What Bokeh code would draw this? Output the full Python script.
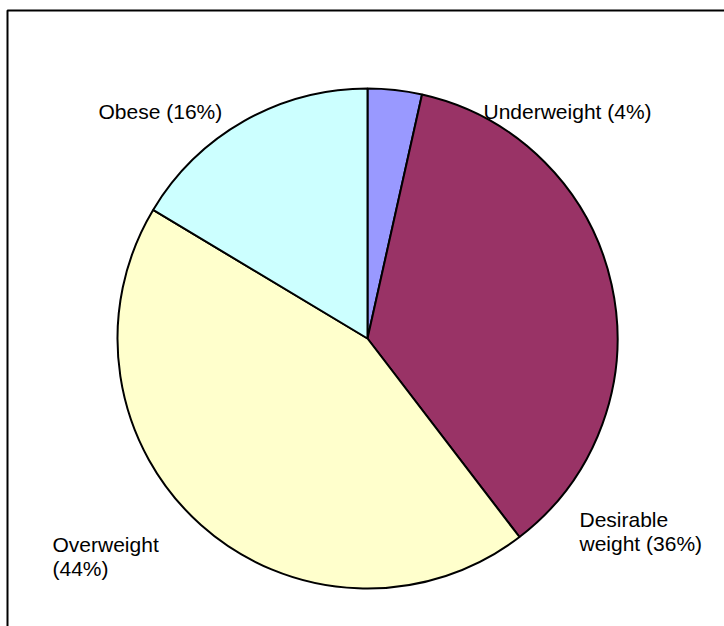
import numpy as np
from bokeh.plotting import figure
from bokeh.models import Range1d, ColumnDataSource
from bokeh.embed import file_html
from bokeh.resources import INLINE
from bokeh.core.properties import value

# ---- data ----
categories = ["Underweight", "Desirable weight", "Overweight", "Obese"]
shares = [3.5, 36.1, 44.0, 16.4]
label_lines = [["Underweight (4%)"], ["Desirable", "weight (36%)"], ["Overweight", "(44%)"], ["Obese (16%)"]]
colors = ["#9999FF", "#993366", "#FFFFCC", "#CCFFFF"]

# ---- layout (pixels) ----
W, H = 724, 626
CX, CY, R = 367, 338, 250
label_pos = [(483, 111), (579, 519), (52, 544), (98, 111)]
LINE_H = 24
FONT = "Liberation Sans"

def Y(py):
    return H - py

p = figure(width=W, height=H, x_range=Range1d(0, W), y_range=Range1d(0, H),
           output_backend="svg", toolbar_location=None, min_border=0)
p.axis.visible = False
p.grid.visible = False
p.outline_line_color = None
p.background_fill_color = "white"
p.border_fill_color = "white"

# outer frame (extends beyond bottom/right edges)
p.line(x=[7, 7, W + 20], y=[Y(H + 20), Y(10), Y(10)], line_color="black", line_width=2)

tot = float(sum(shares))
ends = np.pi / 2 - 2 * np.pi * np.cumsum(shares) / tot
starts = np.concatenate([[np.pi / 2], ends[:-1]])
src = ColumnDataSource(dict(cat=categories, start=starts, end=ends, color=colors))
p.wedge(x=CX, y=Y(CY), radius=R, start_angle="start", end_angle="end", direction="clock",
        fill_color="color", line_color="black", line_width=2, source=src)

tx, ty, tt = [], [], []
for lines, (x0, y0) in zip(label_lines, label_pos):
    for i, s in enumerate(lines):
        tx.append(x0)
        ty.append(Y(y0 + i * LINE_H))
        tt.append(s)
p.text(x=tx, y=ty, text=tt, text_font=value(FONT), text_font_size="21px",
       text_color="black", text_baseline="alphabetic", text_align="left")

open("out.html", "w").write(file_html(p, INLINE))
